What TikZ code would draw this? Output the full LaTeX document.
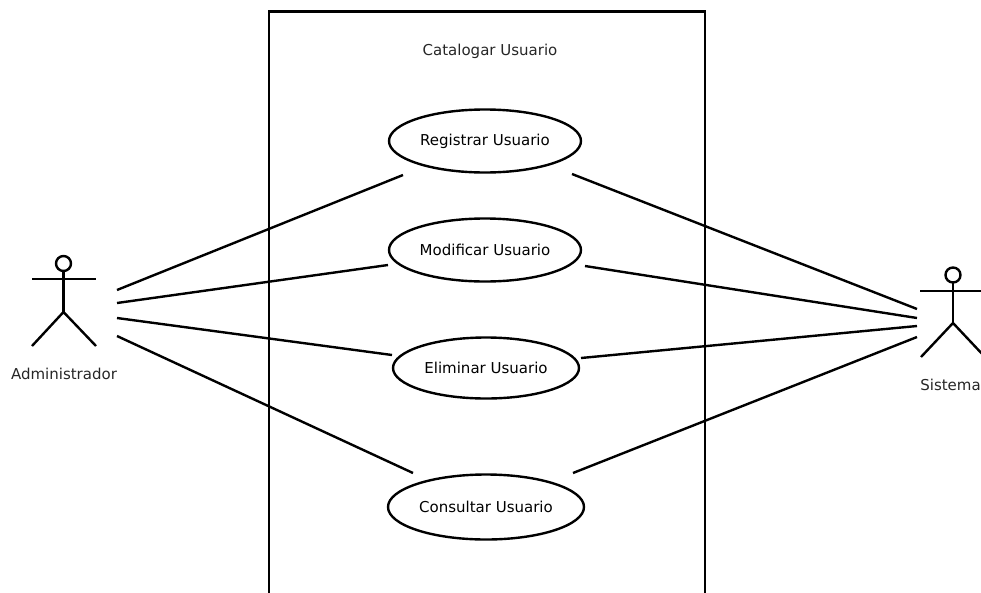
\documentclass[tikz,border=0pt]{standalone}
\usepackage{fontspec}
\setmainfont{DejaVu Sans}
\usetikzlibrary{shapes.geometric}
\tikzset{
  usecase/.style={draw, ellipse, line width=2.4pt, inner sep=0pt, minimum width=192pt, minimum height=63pt, font=\fontsize{15}{17}\selectfont},
  lbl/.style={inner sep=0pt, font=\fontsize{15}{17}\selectfont, text=black!85},
  link/.style={line width=2.4pt},
  stick/.style={line width=2.4pt}
}
\begin{document}
\begin{tikzpicture}[x=1pt,y=-1pt]
\useasboundingbox (0,0) rectangle (981,592);
\clip (0,0) rectangle (981,592);
% system boundary
\draw[line width=2.4pt] (269,640) -- (269,11.5) -- (705,11.5) -- (705,640);
\node[lbl] (title) at (490,51) {Catalogar Usuario};
% use cases
\node[usecase] (reg) at (485,141) {Registrar Usuario};
\node[usecase] (mod) at (485,250) {Modificar Usuario};
\node[usecase, minimum width=186pt, minimum height=61pt] (eli) at (486,368) {Eliminar Usuario};
\node[usecase, minimum width=196pt, minimum height=65pt] (con) at (486,507) {Consultar Usuario};
% actor Administrador
\draw[stick] (63.5,263.5) circle (7.5);
\draw[stick] (63.5,271) -- (63.5,312) coordinate (admhip);
\draw[stick] (32,279) -- (96,279);
\draw[stick] (32,346) -- (admhip) -- (96,346);
\node[lbl] (adm) at (64,374) {Administrador};
% actor Sistema
\draw[stick] (953,275) circle (7.5);
\draw[stick] (953,282.5) -- (953,323) coordinate (syship);
\draw[stick] (920,291) -- (986,291);
\draw[stick] (921,357) -- (syship) -- (985,357);
\node[lbl] (sys) at (950.5,385) {Sistema};
% connector ends
\coordinate (a1) at (117,290);
\coordinate (a2) at (117,303);
\coordinate (a3) at (117,318);
\coordinate (a4) at (117,336);
\coordinate (s1) at (917,309);
\coordinate (s2) at (917,318);
\coordinate (s3) at (917,326);
\coordinate (s4) at (917,337);
\coordinate (regL) at (403,175);
\coordinate (regR) at (572,174);
\coordinate (modL) at (388,265);
\coordinate (modR) at (585,266);
\coordinate (eliL) at (392,355);
\coordinate (eliR) at (581,358);
\coordinate (conL) at (413,473);
\coordinate (conR) at (573,473);
\draw[link] (a1) -- (regL);
\draw[link] (a2) -- (modL);
\draw[link] (a3) -- (eliL);
\draw[link] (a4) -- (conL);
\draw[link] (regR) -- (s1);
\draw[link] (modR) -- (s2);
\draw[link] (eliR) -- (s3);
\draw[link] (conR) -- (s4);
\end{tikzpicture}
\end{document}
